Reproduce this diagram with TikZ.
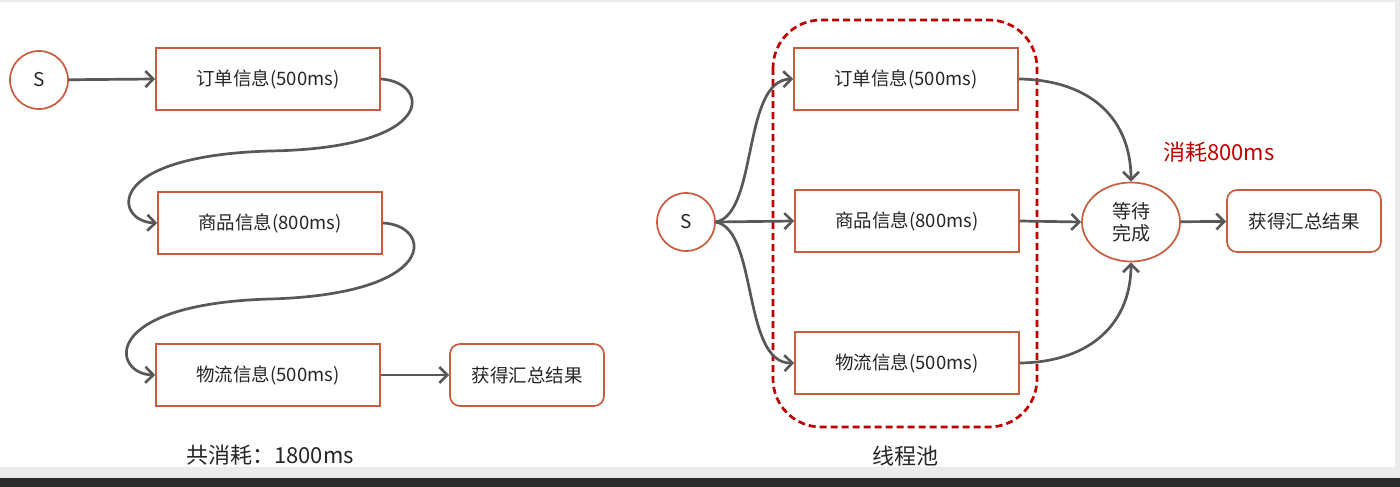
\documentclass[tikz,border=0pt]{standalone}
\usepackage{fontspec}
\newfontfamily\cjk{Noto Sans CJK SC}
\usepackage{tikz}
\usetikzlibrary{arrows.meta,shapes.geometric}
\definecolor{boxred}{RGB}{200,92,62}
\definecolor{linegray}{RGB}{88,88,88}
\definecolor{poolred}{RGB}{192,0,0}
\definecolor{txtdark}{RGB}{38,38,38}
\tikzset{
    mybox/.style={rectangle,draw=boxred,line width=1.7pt,minimum width=224pt,minimum height=62pt,inner sep=0pt,
        font=\cjk\fontsize{18.5}{22}\selectfont,text=txtdark},
    myresult/.style={mybox,rounded corners=10pt,minimum width=154pt},
    mystart/.style={circle,draw=boxred,line width=1.7pt,minimum size=58pt,inner sep=0pt,
        font=\cjk\fontsize{19}{22}\selectfont,text=txtdark},
    mywait/.style={ellipse,draw=boxred,line width=1.7pt,minimum width=98pt,minimum height=79pt,inner sep=0pt,
        align=center,font=\cjk\fontsize{19}{22}\selectfont,text=txtdark},
    myedge/.style={draw=linegray,line width=2.7pt,-{Straight Barb[length=8pt,width=16pt,line width=2.6pt]}},
    mypool/.style={draw=poolred,line width=2.7pt,dash pattern=on 7pt off 4pt,rounded corners=48pt},
    mycaption/.style={font=\cjk\fontsize{22}{25}\selectfont,text=txtdark}
}
\begin{document}
\begin{tikzpicture}[x=1pt,y=-1pt]
  % slide background
  \useasboundingbox (0,0) rectangle (1400,487);
  \fill[black!8] (0,0) rectangle (1400,487);
  \fill[white] (0,2) rectangle (1395,467);
  \fill[black!83] (0,478) rectangle (1400,487);

  % serial calls
  \node[mystart] (s1) at (39,80) {S};
  \node[mybox] (order1) at (268,79) {订单信息(500ms)};
  \node[mybox] (goods1) at (270,223) {商品信息(800ms)};
  \node[mybox] (ship1) at (268,375) {物流信息(500ms)};
  \node[myresult] (sum1) at (527,375) {获得汇总结果};
  \node[mycaption] (total1) at (270,455) {共消耗：1800ms};

  \draw[myedge] (s1) -- (order1.west);
  \draw[myedge] (order1.east) .. controls (430,82) and (440,148) .. (270,151)
                .. controls (100,156) and (115,222) .. (goods1.west);
  \draw[myedge] (goods1.east) .. controls (432,225) and (442,294) .. (270,299)
                .. controls (98,304) and (112,374) .. (ship1.west);
  \draw[myedge] (ship1) -- (sum1);

  % thread pool calls
  \draw[mypool] (773,20) rectangle (1037,427);
  \node[mystart] (s2) at (686,222) {S};
  \node[mybox] (order2) at (906,79) {订单信息(500ms)};
  \node[mybox] (goods2) at (907,221) {商品信息(800ms)};
  \node[mybox] (ship2) at (907,363) {物流信息(500ms)};
  \node[mywait] (wait) at (1131,222) {等待\\完成};
  \node[myresult] (sum2) at (1304,221) {获得汇总结果};
  \node[mycaption,text=poolred] (cost) at (1219,152) {消耗800ms};
  \node[mycaption] (pool) at (905,456) {线程池};

  \draw[myedge] (s2.east) .. controls (758,214) and (742,80) .. (order2.west);
  \draw[myedge] (s2.east) -- (goods2.west);
  \draw[myedge] (s2.east) .. controls (758,230) and (742,364) .. (ship2.west);
  \draw[myedge] (order2.east) .. controls (1092,80) and (1131,120) .. (wait.north);
  \draw[myedge] (goods2.east) -- (wait.west);
  \draw[myedge] (ship2.east) .. controls (1092,362) and (1131,322) .. (wait.south);
  \draw[myedge] (wait) -- (sum2);
\end{tikzpicture}
\end{document}
